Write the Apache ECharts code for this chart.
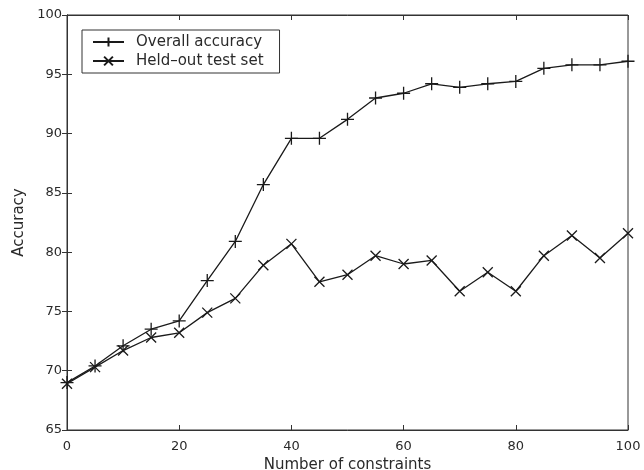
<!DOCTYPE html>
<html>
<head>
<meta charset="utf-8">
<script src="https://cdn.jsdelivr.net/npm/echarts@6/dist/echarts.min.js"></script>
<style>html,body{margin:0;padding:0;background:#fff}#c{width:644px;height:470px}</style>
</head>
<body>
<div id="c"></div>
<script>
const xValues = [0,5,10,15,20,25,30,35,40,45,50,55,60,65,70,75,80,85,90,95,100];
const overallAccuracy = [69.0,70.4,72.1,73.5,74.2,77.6,80.9,85.7,89.6,89.6,91.2,93.0,93.4,94.2,93.9,94.2,94.4,95.5,95.8,95.8,96.1];
const heldOutTestSet = [68.9,70.3,71.7,72.8,73.2,74.9,76.1,78.9,80.7,77.5,78.1,79.7,79.0,79.3,76.7,78.3,76.7,79.7,81.4,79.5,81.6];
const seriesNames = ['Overall accuracy','Held\u2013out test set'];
const xTicks = [0,20,40,60,80,100];
const yTicks = [65,70,75,80,85,90,95,100];

const font = 'DejaVu Sans, sans-serif';
const ink = '#1a1a1a';
const plus = 'path://M5,0L5,10M0,5L10,5';
const cross = 'path://M0,0L10,10M0,10L10,0';
const pair = (xs, ys) => xs.map((x,i)=>[x, ys[i]]);

const chart = echarts.init(document.getElementById('c'));
const tickLabel = {color:'#2a2a2a', fontFamily:font, fontSize:13};
const tick = {inside:true,length:5,lineStyle:{color:'#333'}};
chart.setOption({
  backgroundColor:'#fff',
  animation:false,
  grid:{left:67,right:16,top:15,bottom:40,show:true,borderColor:'#333',borderWidth:1,
        containLabel:false, outerBoundsMode:'none'},
  legend:{
    left:82, top:30, orient:'vertical', itemGap:3, itemWidth:31, itemHeight:11,
    padding:[4,16,4,10], borderColor:'#333', borderWidth:1, backgroundColor:'#fff',
    textStyle:{fontFamily:font,fontSize:15,color:'#2a2a2a',lineHeight:16,padding:[0,0,0,7]},
    data:seriesNames
  },
  xAxis:[{
    type:'value', min:0, max:100, interval:20,
    axisLine:{lineStyle:{color:'#333'}}, axisTick:tick,
    axisLabel:Object.assign({margin:10, formatter:v=>xTicks.includes(v)?String(v):''}, tickLabel),
    splitLine:{show:false},
    name:'Number of constraints', nameLocation:'middle', nameGap:27,
    nameTextStyle:{fontFamily:font,fontSize:15,color:'#2a2a2a'}
  },{
    type:'value', position:'top', min:0, max:100, interval:20,
    axisLine:{lineStyle:{color:'#333'}}, axisTick:tick,
    axisLabel:{show:false}, splitLine:{show:false}
  }],
  yAxis:[{
    type:'value', min:65, max:100, interval:5,
    axisLine:{lineStyle:{color:'#333'}}, axisTick:tick,
    axisLabel:Object.assign({margin:5, formatter:v=>yTicks.includes(v)?String(v):''}, tickLabel),
    splitLine:{show:false},
    name:'Accuracy', nameLocation:'middle', nameGap:34, nameRotate:90,
    nameTextStyle:{fontFamily:font,fontSize:15,color:'#2a2a2a'}
  },{
    type:'value', position:'right', min:65, max:100, interval:5,
    axisLine:{lineStyle:{color:'#333'}}, axisTick:tick,
    axisLabel:{show:false}, splitLine:{show:false}
  }],
  series:[{
    name:seriesNames[0], type:'line', data:pair(xValues, overallAccuracy),
    symbol:plus, symbolSize:13, showAllSymbol:true,
    lineStyle:{color:ink,width:1.3},
    itemStyle:{color:'none',borderColor:ink,borderWidth:1.3}
  },{
    name:seriesNames[1], type:'line', data:pair(xValues, heldOutTestSet),
    symbol:cross, symbolSize:10, showAllSymbol:true,
    lineStyle:{color:ink,width:1.3},
    itemStyle:{color:'none',borderColor:ink,borderWidth:1.3}
  }]
});
</script>
</body>
</html>
